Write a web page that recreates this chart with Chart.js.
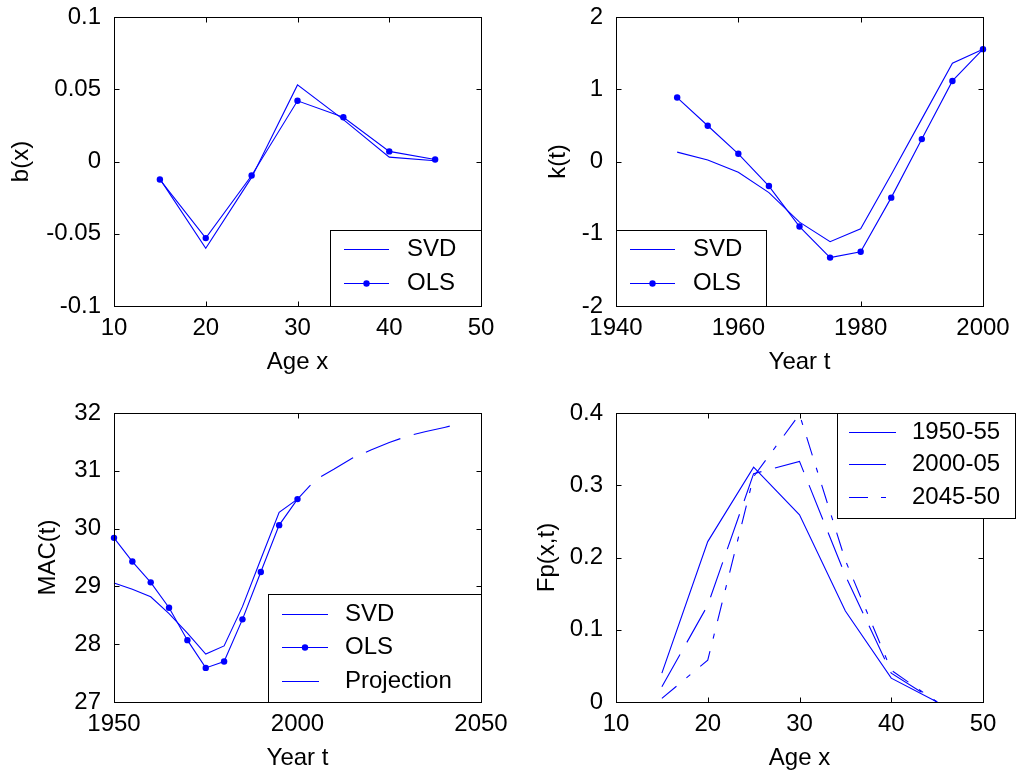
<!DOCTYPE html>
<html>
<head>
<meta charset="utf-8">
<script src="https://cdn.jsdelivr.net/npm/chart.js@4"></script>
<style>
html,body{margin:0;padding:0;background:#fff;}
#wrap{position:relative;width:1017px;height:776px;overflow:hidden;background:#fff;}
canvas{position:absolute;}
</style>
</head>
<body>
<div id="wrap">
<canvas id="c1" width="515" height="396" style="left:0px;top:0px"></canvas>
<canvas id="c2" width="515" height="396" style="left:502px;top:0px"></canvas>
<canvas id="c3" width="515" height="396" style="left:0px;top:396px"></canvas>
<canvas id="c4" width="515" height="396" style="left:502px;top:396px"></canvas>
</div>
<script>
// ---------- data ----------
const ageGroups = [15, 20, 25, 30, 35, 40, 45];
const bxSVD = [-0.012, -0.060, -0.011, 0.053, 0.029, 0.003, 0.0005];
const bxOLS = [-0.0125, -0.053, -0.0097, 0.042, 0.0306, 0.007, 0.0014];

const years = [1950, 1955, 1960, 1965, 1970, 1975, 1980, 1985, 1990, 1995, 2000];
const ktSVD = [0.13, 0.02, -0.15, -0.43, -0.84, -1.11, -0.93, -0.18, 0.59, 1.36, 1.555];
const ktOLS = [0.885, 0.495, 0.107, -0.34, -0.90, -1.33, -1.25, -0.50, 0.31, 1.115, 1.555];

const macSVD = [29.06, 28.95, 28.82, 28.53, 28.19, 27.83, 27.97, 28.65, 29.47, 30.28, 30.51];
const macOLS = [29.84, 29.43, 29.07, 28.63, 28.07, 27.59, 27.70, 28.43, 29.25, 30.06, 30.51];
const projYears = [2000, 2005, 2010, 2015, 2020, 2025, 2030, 2035, 2040, 2042];
const macProj = [30.51, 30.85, 31.03, 31.22, 31.36, 31.49, 31.60, 31.68, 31.75, 31.78];

const fp1950 = [0.040, 0.222, 0.325, 0.259, 0.126, 0.033, 0.0];
const fp2000 = [0.021, 0.134, 0.316, 0.333, 0.175, 0.040, 0.0];
const fp2045 = [0.005, 0.058, 0.312, 0.398, 0.196, 0.044, 0.0];

const ageTicks = [10, 20, 30, 40, 50];
const ageTickLabels = ['10', '20', '30', '40', '50'];
const bxTicks = [-0.1, -0.05, 0, 0.05, 0.1];
const bxTickLabels = ['-0.1', '-0.05', '0', '0.05', '0.1'];
const ktYearTicks = [1940, 1960, 1980, 2000];
const ktYearTickLabels = ['1940', '1960', '1980', '2000'];
const ktTicks = [-2, -1, 0, 1, 2];
const ktTickLabels = ['-2', '-1', '0', '1', '2'];
const macYearTicks = [1950, 2000, 2050];
const macYearTickLabels = ['1950', '2000', '2050'];
const macTicks = [27, 28, 29, 30, 31, 32];
const macTickLabels = ['27', '28', '29', '30', '31', '32'];
const fpTicks = [0, 0.1, 0.2, 0.3, 0.4];
const fpTickLabels = ['0', '0.1', '0.2', '0.3', '0.4'];

// ---------- helpers ----------
const BLUE = '#0000ff';
const FONT = {family: "'Liberation Sans', Arial, Helvetica, sans-serif", size: 24};
const pts = (xs, ys) => xs.map((x, i) => ({x: x, y: ys[i]}));

function ds(label, xs, ys, extra) {
  return Object.assign({
    label: label,
    data: pts(xs, ys),
    borderColor: BLUE,
    backgroundColor: BLUE,
    borderWidth: 1.1,
    pointRadius: 0,
    pointHoverRadius: 0,
    pointBorderWidth: 0,
    pointBackgroundColor: BLUE,
    tension: 0,
    fill: false,
    clip: false
  }, extra || {});
}

const framePlugin = {
  id: 'frame',
  afterDatasetsDraw(chart, args, opts) {
    const ctx = chart.ctx;
    const a = chart.chartArea;
    const xs = chart.scales.x, ys = chart.scales.y;
    ctx.save();
    ctx.setLineDash([]);
    ctx.strokeStyle = '#000';
    ctx.lineWidth = 1;
    const L = Math.round(a.left) + 0.5, R = Math.round(a.right) + 0.5;
    const T = Math.round(a.top) + 0.5, B = Math.round(a.bottom) + 0.5;
    ctx.strokeRect(L, T, R - L, B - T);
    const TL = 5;
    ctx.beginPath();
    xs.ticks.forEach(t => {
      const p = Math.round(xs.getPixelForValue(t.value)) + 0.5;
      ctx.moveTo(p, B); ctx.lineTo(p, B - TL);
      ctx.moveTo(p, T); ctx.lineTo(p, T + TL);
    });
    ys.ticks.forEach(t => {
      const p = Math.round(ys.getPixelForValue(t.value)) + 0.5;
      ctx.moveTo(L, p); ctx.lineTo(L + TL, p);
      ctx.moveTo(R, p); ctx.lineTo(R - TL, p);
    });
    ctx.stroke();

    // legend
    const lg = opts.legend;
    if (lg) {
      const bx = lg.box;
      ctx.fillStyle = '#fff';
      ctx.fillRect(bx[0], bx[1], bx[2] - bx[0], bx[3] - bx[1]);
      ctx.strokeStyle = '#000';
      ctx.lineWidth = 1;
      ctx.strokeRect(Math.round(bx[0]) + 0.5, Math.round(bx[1]) + 0.5, Math.round(bx[2] - bx[0]), Math.round(bx[3] - bx[1]));
      ctx.font = FONT.size + 'px ' + FONT.family;
      ctx.textBaseline = 'middle';
      ctx.textAlign = 'left';
      chart.data.datasets.forEach((d, i) => {
        const y = lg.rows[i];
        ctx.strokeStyle = d.borderColor;
        ctx.lineWidth = d.borderWidth;
        ctx.setLineDash(d.borderDash || []);
        ctx.lineDashOffset = 0;
        ctx.beginPath();
        ctx.moveTo(lg.lineX[0], y + 0.5);
        ctx.lineTo(lg.lineX[1], y + 0.5);
        ctx.stroke();
        ctx.setLineDash([]);
        if (d.pointRadius > 0) {
          ctx.fillStyle = d.pointBackgroundColor;
          ctx.beginPath();
          ctx.arc((lg.lineX[0] + lg.lineX[1]) / 2, y + 0.5, d.pointRadius, 0, Math.PI * 2);
          ctx.fill();
        }
        ctx.fillStyle = '#000';
        ctx.fillText(d.label, lg.textX, y);
      });
    }
    ctx.restore();
  }
};

function makePanel(id, o) {
  return new Chart(document.getElementById(id), {
    type: 'line',
    data: {datasets: o.datasets},
    options: {
      responsive: false,
      animation: false,
      devicePixelRatio: 1,
      events: [],
      layout: {padding: {left: 0, top: 17, right: 34, bottom: 0}},
      plugins: {
        legend: {display: false},
        tooltip: {enabled: false},
        frame: {legend: o.legend}
      },
      scales: {
        x: {
          type: 'linear',
          min: o.xTicks[0],
          max: o.xTicks[o.xTicks.length - 1],
          grid: {display: false, drawTicks: false},
          border: {display: false},
          afterBuildTicks: s => { s.ticks = o.xTicks.map(v => ({value: v})); },
          afterFit: s => { s.height = 90; s.paddingLeft = 0; s.paddingRight = 0; },
          ticks: {
            font: FONT, color: '#000', padding: 7.5, maxRotation: 0, autoSkip: false,
            callback: (v, i) => o.xLabels[i]
          },
          title: {display: true, text: o.xTitle, font: FONT, color: '#000', padding: {top: 0, bottom: 19.6}}
        },
        y: {
          type: 'linear',
          min: o.yTicks[0],
          max: o.yTicks[o.yTicks.length - 1],
          grid: {display: false, drawTicks: false},
          border: {display: false},
          afterBuildTicks: s => { s.ticks = o.yTicks.map(v => ({value: v})); },
          afterFit: s => { s.width = 114; s.paddingTop = 0; s.paddingBottom = 0; },
          ticks: {
            font: FONT, color: '#000', padding: 13, autoSkip: false,
            callback: (v, i) => o.yLabels[i]
          },
          title: {display: true, text: o.yTitle, font: FONT, color: '#000', padding: {top: o.yTitlePad, bottom: 0}}
        }
      }
    },
    plugins: [framePlugin]
  });
}

const DASH = [37, 14];
const DASHDOT = [19, 13, 5, 13];

makePanel('c1', {
  datasets: [
    ds('SVD', ageGroups, bxSVD),
    ds('OLS', ageGroups, bxOLS, {pointRadius: 3.2})
  ],
  xTicks: ageTicks, xLabels: ageTickLabels, xTitle: 'Age x',
  yTicks: bxTicks, yLabels: bxTickLabels, yTitle: 'b(x)', yTitlePad: 7,
  legend: {box: [330, 230, 481, 306], rows: [249, 283], lineX: [344, 389], textX: 407}
});

makePanel('c2', {
  datasets: [
    ds('SVD', years, ktSVD),
    ds('OLS', years, ktOLS, {pointRadius: 3.2})
  ],
  xTicks: ktYearTicks, xLabels: ktYearTickLabels, xTitle: 'Year t',
  yTicks: ktTicks, yLabels: ktTickLabels, yTitle: 'k(t)', yTitlePad: 41.6,
  legend: {box: [114, 230, 264, 306], rows: [249, 283], lineX: [128, 173], textX: 191}
});

makePanel('c3', {
  datasets: [
    ds('SVD', years, macSVD),
    ds('OLS', years, macOLS, {pointRadius: 3.2}),
    ds('Projection', projYears, macProj, {borderDash: DASH, borderDashOffset: 18})
  ],
  xTicks: macYearTicks, xLabels: macYearTickLabels, xTitle: 'Year t',
  yTicks: macTicks, yLabels: macTickLabels, yTitle: 'MAC(t)', yTitlePad: 33.6,
  legend: {box: [268, 198, 481, 306], rows: [218, 251, 285], lineX: [282, 328], textX: 345}
});

makePanel('c4', {
  datasets: [
    ds('1950-55', ageGroups, fp1950),
    ds('2000-05', ageGroups, fp2000, {borderDash: DASH}),
    ds('2045-50', ageGroups, fp2045, {borderDash: DASHDOT})
  ],
  xTicks: ageTicks, xLabels: ageTickLabels, xTitle: 'Age x',
  yTicks: fpTicks, yLabels: fpTickLabels, yTitle: 'Fp(x,t)', yTitlePad: 30.6,
  legend: {box: [335, 17, 513, 122], rows: [36, 68, 101], lineX: [347, 394], textX: 410}
});
</script>
</body>
</html>
